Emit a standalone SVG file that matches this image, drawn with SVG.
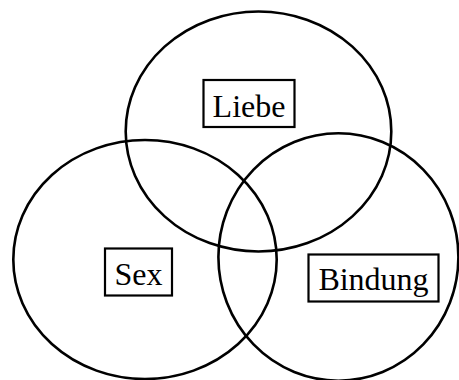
<svg xmlns="http://www.w3.org/2000/svg" width="459" height="380" viewBox="0 0 459 380">
<style>
.c{fill:none;stroke:#000;stroke-width:2.6}
.b{fill:#fff;stroke:#000;stroke-width:2.2}
.t{font-family:"Liberation Serif","Times New Roman",serif;font-size:32px;fill:#000;text-anchor:middle}
</style>
<rect width="459" height="380" fill="#fff"/>
<g id="circles">
<ellipse id="c-liebe" class="c" cx="258.5" cy="131.5" rx="132.8" ry="120"/>
<ellipse id="c-sex" class="c" cx="145" cy="259.5" rx="131.7" ry="119.5"/>
<ellipse id="c-bindung" class="c" cx="338.4" cy="257" rx="120" ry="123.7"/>
</g>
<g id="liebe">
<rect class="b" x="203.5" y="80" width="91" height="47"/>
<text class="t" x="249" y="117.3">Liebe</text>
</g>
<g id="sex">
<rect class="b" x="105" y="248.5" width="67" height="47"/>
<text class="t" x="138.5" y="285">Sex</text>
</g>
<g id="bindung">
<rect class="b" x="308.5" y="254.5" width="130" height="47"/>
<text class="t" x="373.5" y="290">Bindung</text>
</g>
</svg>
